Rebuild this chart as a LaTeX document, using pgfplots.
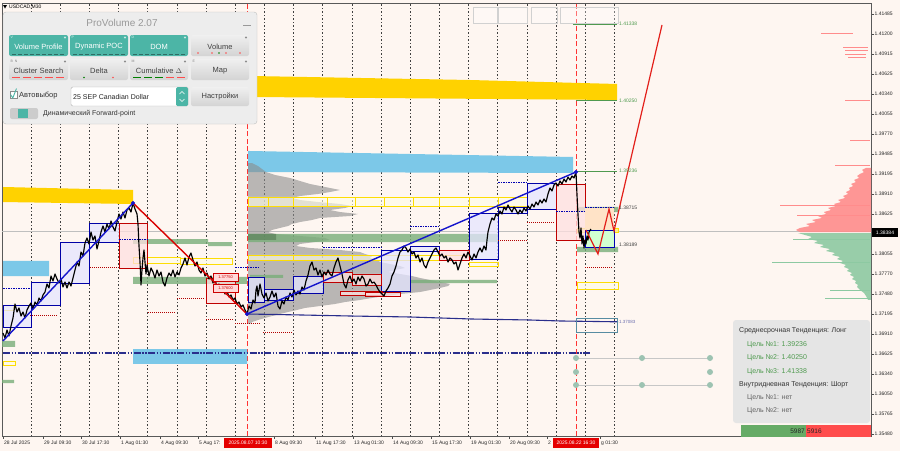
\documentclass[border=0pt]{standalone}
\usepackage{pgfplots}
\pgfplotsset{compat=1.18}
\usepackage{fontspec}
\setmainfont{Liberation Sans}

\definecolor{chartbg}{HTML}{FEF6F1}
\definecolor{gold}{HTML}{FFD200}
\definecolor{sky}{HTML}{7CC8E8}
\definecolor{navy}{HTML}{2A2E8C}
\definecolor{trend}{HTML}{1414CC}
\definecolor{zgreen}{HTML}{79AE79}
\definecolor{tealb}{HTML}{4CB5A6}
\definecolor{vpink}{HTML}{FF8C8C}
\definecolor{vgreen}{HTML}{8DC9A2}
\definecolor{tgreen}{HTML}{4F9A4F}
\definecolor{fcred}{HTML}{E3201B}
\definecolor{dotc}{HTML}{9DC3B2}

% rectangle zone: [style] x1 p1 x2 p2
\newcommand{\zone}[5][]{\addplot[#1] coordinates {(#2,#3) (#4,#3) (#4,#5) (#2,#5) (#2,#3)};}
% horizontal segment: [style] x1 x2 p
\newcommand{\hseg}[4][]{\addplot[#1] coordinates {(#2,#4) (#3,#4)};}

\pgfplotsset{
  zblue/.style={fill=blue!10, fill opacity=0.75, draw=blue!65!black, line width=0.6pt},
  zred/.style={fill=red!12, fill opacity=0.75, draw=red!75!black, line width=0.6pt},
  zgr/.style={fill=zgreen, fill opacity=0.8, draw=none},
  zyel/.style={fill=yellow!10, fill opacity=0.6, draw=yellow!80!orange, line width=0.6pt},
  dotred/.style={draw=red!70!black, dash pattern=on 1pt off 1pt, line width=0.6pt},
  dotblue/.style={draw=blue!70!black, dash pattern=on 1.5pt off 1pt, line width=0.6pt},
}

\newcommand{\tbtn}[6]{% x1 y1 x2 y2 label tag
  \fill[tealb, rounded corners=2pt] (#1,#2) rectangle (#3,#4);
  \node[text=white, font=\fontsize{7.5}{8}\selectfont] at ({(#1+#3)/2},{(#2+#4)/2+1}) {#5};
  \node[text=white!85!tealb, anchor=north west, inner sep=0.5pt, font=\fontsize{3.5}{4}\selectfont] at (#1+1,#2+0.5) {#6};
  \fill[white!70!tealb] (#3-3,#2+2.5) circle (1.2pt);
  \draw[tealb!60!black, dash pattern=on 4pt off 2pt, line width=0.6pt] (#1+3,#4-2) -- (#3-3,#4-2);
}
\newcommand{\gbtn}[6]{%
  \shade[top color=black!6, bottom color=black!17, rounded corners=2pt] (#1,#2) rectangle (#3,#4);
  \node[text=black!75, font=\fontsize{7.5}{8}\selectfont] at ({(#1+#3)/2},{(#2+#4)/2+1}) {#5};
  \node[text=black!50, anchor=north west, inner sep=0.5pt, font=\fontsize{3.5}{4}\selectfont] at (#1+1,#2+0.5) {#6};
  \fill[black!45] (#3-3,#2+2.5) circle (1.2pt);
}

\begin{document}
\begin{tikzpicture}
\useasboundingbox (0,0) rectangle (900pt,-451pt);
\fill[chartbg] (0,0) rectangle (900pt,-451pt);
\begin{axis}[
  at={(2pt,-3pt)}, anchor=north west,
  scale only axis, width=869pt, height=433pt,
  xmin=2, xmax=871, ymin=1.35450, ymax=1.41642,
  clip mode=individual,
  axis line style={black!65, line width=0.6pt},
  xtick pos=left, ytick pos=right, yticklabel pos=right,
  tick align=outside, major tick length=2.5pt,
  tick style={black!70, line width=0.5pt},
  ytick={1.41485,1.41200,1.40915,1.40625,1.40340,1.40055,1.39770,1.39485,1.39195,1.38910,1.38625,1.38340,1.38055,1.37770,1.37480,1.37195,1.36910,1.36625,1.36340,1.36050,1.35765,1.35480},
  yticklabels={1.41485,1.41200,1.40915,1.40625,1.40340,1.40055,1.39770,1.39485,1.39195,1.38910,1.38625,1.38340,1.38055,1.37770,1.37480,1.37195,1.36910,1.36625,1.36340,1.36050,1.35765,1.35480},
  xtick={3,43,81,120,160,198,274,315,353,392,431,470,509,547,600},
  xticklabels={28 Jul 2025,29 Jul 09:30,30 Jul 17:30,1 Aug 01:30,4 Aug 09:30,5 Aug 17:,8 Aug 09:30,11 Aug 17:30,13 Aug 01:30,14 Aug 09:30,15 Aug 17:30,19 Aug 01:30,20 Aug 09:30,2,g 01:30},
  yticklabel style={font=\fontsize{5}{6}\selectfont, text=black!85, inner sep=1pt},
  xticklabel style={font=\fontsize{5}{6}\selectfont, text=black!85, anchor=north west, inner sep=1pt, yshift=-1.5pt},
  extra x ticks={31,60.2,89.3,118.5,147.7,176.9,206,235.2,264.4,293.5,322.7,351.9,381,410.2,439.4,468.6,497.7,526.9,556.1,585.2,614.4},
  extra x tick labels={},
  extra x tick style={grid=major, major tick length=0pt,
    major grid style={black!75, dash pattern=on 1.5pt off 2pt, line width=0.6pt}},
]
% current price line and period separators
\hseg[black!25, line width=0.6pt]{2}{871}{1.38384}
\addplot[red!80, dash pattern=on 5pt off 2.5pt, line width=0.8pt] coordinates {(247,1.35450) (247,1.41642)};
\addplot[red!80, dash pattern=on 5pt off 2.5pt, line width=0.8pt] coordinates {(576,1.35450) (576,1.41642)};

% top gray boxes
\zone[draw=black!18, fill=white, fill opacity=0.3]{473}{1.41585}{497}{1.41356}
\zone[draw=black!18, fill=white, fill opacity=0.3]{498}{1.41585}{527}{1.41356}
\zone[draw=black!18, fill=white, fill opacity=0.3]{531}{1.41585}{557}{1.41356}
\zone[draw=black!18, fill=white, fill opacity=0.3]{560}{1.41585}{618}{1.41356}

% gold bands
\addplot[fill=gold, draw=none] coordinates {(3,1.39011) (133,1.38968) (133,1.38768) (3,1.38796) (3,1.39011)};
\addplot[fill=gold, draw=none] coordinates {(253,1.40598) (470,1.40541) (617,1.40484) (617,1.40255) (253,1.40298) (253,1.40598)};
% sky bands
\addplot[fill=sky, draw=none] coordinates {(248,1.39526) (573,1.39440) (573,1.39211) (248,1.39225) (248,1.39526)};
\zone[fill=sky, draw=none]{3}{1.37953}{49}{1.37738}
\zone[fill=sky, draw=none]{133}{1.36694}{247}{1.36480}

% gray volume profile
\addplot[fill=black!45, fill opacity=0.6, draw=none] coordinates {
(248,1.39354) (252,1.39354) (258,1.39311) (262,1.39268) (266,1.39225) (275,1.39183) (290,1.39140)
(300,1.39097) (310,1.39054) (325,1.39011) (340,1.38968) (330,1.38939) (318,1.38911) (300,1.38882)
(292,1.38854) (300,1.38825) (318,1.38796) (340,1.38768) (352,1.38739) (345,1.38711) (330,1.38682)
(340,1.38653) (358,1.38625) (350,1.38596) (320,1.38568) (312,1.38539) (300,1.38510) (292,1.38482)
(288,1.38453) (280,1.38425) (272,1.38396) (268,1.38367) (275,1.38339) (300,1.38310) (325,1.38282)
(330,1.38253) (315,1.38224) (300,1.38196) (296,1.38167) (310,1.38139) (340,1.38110) (360,1.38081)
(365,1.38053) (372,1.38024) (370,1.37996) (378,1.37967) (380,1.37938) (390,1.37910) (400,1.37881)
(405,1.37853) (395,1.37824) (388,1.37795) (400,1.37767) (412,1.37738) (420,1.37710) (430,1.37681)
(440,1.37652) (450,1.37624) (448,1.37595) (440,1.37567) (430,1.37538) (420,1.37509) (400,1.37481)
(385,1.37452) (372,1.37424) (360,1.37395) (345,1.37366) (335,1.37338) (320,1.37309) (305,1.37281)
(297,1.37252) (288,1.37223) (280,1.37195) (272,1.37166) (265,1.37138) (258,1.37109) (252,1.37080)
(250,1.37052) (248,1.37052) (248,1.39354)};

% right volume profile
\addplot[fill=vpink, fill opacity=0.9, draw=none] coordinates {
(871,1.39283) (866,1.39283) (862,1.39254) (864,1.39225) (860,1.39197) (857,1.39168) (859,1.39140)
(854,1.39111) (856,1.39082) (851,1.39054) (853,1.39025) (849,1.38997) (850,1.38968) (846,1.38939)
(848,1.38911) (843,1.38882) (845,1.38854) (838,1.38825) (841,1.38796) (834,1.38768) (836,1.38739)
(828,1.38711) (831,1.38682) (824,1.38653) (826,1.38625) (818,1.38596) (822,1.38568) (812,1.38539)
(816,1.38510) (806,1.38482) (810,1.38453) (800,1.38425) (796,1.38396) (800,1.38367) (871,1.38367) (871,1.39283)};
\addplot[fill=vgreen, fill opacity=0.9, draw=none] coordinates {
(871,1.38353) (798,1.38353) (805,1.38325) (812,1.38296) (808,1.38267) (818,1.38239) (814,1.38210)
(824,1.38182) (820,1.38153) (830,1.38124) (826,1.38096) (835,1.38067) (832,1.38039) (840,1.38010)
(837,1.37981) (843,1.37953) (840,1.37924) (846,1.37896) (844,1.37867) (849,1.37838) (847,1.37810)
(852,1.37781) (850,1.37753) (854,1.37724) (852,1.37695) (856,1.37667) (855,1.37638) (858,1.37610)
(857,1.37581) (860,1.37538) (864,1.37495) (866,1.37452) (868,1.37395) (871,1.37395) (871,1.38353)};
\hseg[vpink, line width=0.8pt]{821}{853}{1.41213}
\hseg[vpink, line width=0.8pt]{843}{868}{1.41013}
\hseg[vpink, line width=0.8pt]{845}{868}{1.40970}
\hseg[vpink, line width=0.8pt]{845}{866}{1.40913}
\hseg[vpink, line width=0.8pt]{848}{866}{1.40870}
\hseg[vpink, line width=0.8pt]{845}{870}{1.40255}
\hseg[vpink, line width=0.8pt]{850}{870}{1.39683}
\hseg[vpink, line width=0.8pt]{835}{870}{1.39325}
\hseg[vpink, line width=0.8pt]{780}{870}{1.38754}
\hseg[vpink, line width=0.8pt]{797}{870}{1.38611}
\hseg[vgreen, line width=0.8pt]{793}{870}{1.38267}
\hseg[vgreen, line width=0.8pt]{772}{870}{1.37938}
\hseg[vgreen, line width=0.8pt]{830}{870}{1.37538}
\hseg[vgreen, line width=0.8pt]{825}{870}{1.37424}

% green zones
\zone[zgr]{133}{1.38267}{208}{1.38196}
\zone[zgr]{208}{1.38224}{232}{1.38167}
\zone[zgr]{133}{1.37724}{247}{1.37624}
\zone[zgr]{2}{1.36809}{15}{1.36723}
\zone[zgr]{2}{1.36251}{14}{1.36208}
\zone[zgr]{248}{1.38339}{498}{1.38224}
\zone[fill=zgreen!70!black, fill opacity=0.6, draw=none]{248}{1.38339}{276}{1.38253}
\zone[zgr]{250}{1.37753}{283}{1.37710}
\zone[zgr]{410}{1.37681}{497}{1.37638}
\zone[zgr]{577}{1.38725}{618}{1.38653}
\zone[zgr]{577}{1.38153}{618}{1.38081}

% yellow outlined boxes
\zone[zyel]{248}{1.38868}{268}{1.38739}
\zone[zyel]{268}{1.38868}{293}{1.38739}
\zone[zyel]{293}{1.38868}{327}{1.38739}
\zone[zyel]{327}{1.38868}{355}{1.38739}
\zone[zyel]{355}{1.38868}{384}{1.38739}
\zone[zyel]{384}{1.38868}{413}{1.38739}
\zone[zyel]{413}{1.38868}{439}{1.38739}
\zone[zyel]{439}{1.38868}{469}{1.38739}
\zone[zyel]{469}{1.38868}{498}{1.38739}
\zone[zyel]{498}{1.38868}{527}{1.38739}
\zone[zyel]{248}{1.38039}{293}{1.37967}
\zone[zyel]{293}{1.38039}{352}{1.37967}
\zone[zyel]{352}{1.38039}{410}{1.37967}
\zone[zyel]{410}{1.38039}{469}{1.37967}
\zone[zyel]{469}{1.37938}{498}{1.37881}
\zone[zyel]{133}{1.38010}{180}{1.37924}
\zone[zyel]{180}{1.37996}{232}{1.37910}
\zone[zyel]{3}{1.37324}{13}{1.37252}
\zone[zyel]{3}{1.36523}{15}{1.36466}
\zone[fill=gold!45, draw=yellow!80!orange, line width=0.6pt]{577}{1.38425}{618}{1.38367}
\zone[zyel]{577}{1.37652}{618}{1.37552}

% blue range boxes
\zone[zblue]{3}{1.37324}{31}{1.37009}
\zone[zblue]{31}{1.37652}{60}{1.37324}
\zone[zblue]{60}{1.38224}{89}{1.37638}
\zone[zblue]{89}{1.38496}{119}{1.38224}
\zone[zblue]{248}{1.37724}{264}{1.37366}
\zone[zblue]{264}{1.37552}{293}{1.37395}
\zone[zblue]{293}{1.37738}{323}{1.37495}
\zone[zblue]{381}{1.38110}{410}{1.37524}
\zone[zblue]{410}{1.38167}{439}{1.38096}
\zone[zblue]{469}{1.38639}{498}{1.37981}
\zone[zblue]{498}{1.38725}{527}{1.38639}
\zone[zblue]{527}{1.39068}{556}{1.38696}
% red range boxes
\zone[zred]{119}{1.38496}{147}{1.37853}
\zone[zred]{206}{1.37710}{235}{1.37352}
\zone[zred]{323}{1.37795}{352}{1.37652}
\zone[zred]{352}{1.37767}{381}{1.37610}
\zone[zred]{340}{1.37524}{382}{1.37467}
\zone[zred]{365}{1.37509}{400}{1.37452}
\zone[zred]{439}{1.38110}{469}{1.37967}
\zone[zred]{556}{1.39054}{585}{1.38253}
% current bar projection
\zone[fill=orange!22, draw=none]{585}{1.38711}{614}{1.38396}
\zone[fill=green!18, draw=blue!70!black, line width=0.7pt]{585}{1.38396}{614}{1.38153}

% dotted levels
\hseg[dotred]{30}{58}{1.37181}
\hseg[dotred]{90}{117}{1.37867}
\hseg[dotred]{148}{175}{1.37223}
\hseg[dotred]{177}{205}{1.37424}
\hseg[dotred]{206}{233}{1.37123}
\hseg[dotred]{235}{260}{1.37066}
\hseg[dotred]{263}{293}{1.36937}
\hseg[dotred]{498}{527}{1.38253}
\hseg[dotred]{527}{555}{1.38510}
\hseg[dotred]{585}{613}{1.37867}
\hseg[dotblue]{3}{31}{1.37567}
\hseg[dotblue]{119}{147}{1.38267}
\hseg[dotblue]{235}{260}{1.37867}
\hseg[dotblue]{323}{381}{1.38153}
\hseg[dotblue]{410}{439}{1.38453}
\hseg[dotblue]{498}{527}{1.39082}
\hseg[dotblue]{556}{585}{1.38668}
\hseg[dotblue]{585}{614}{1.38725}

% lower levels
\addplot[navy, line width=2pt, dash pattern=on 7pt off 1.5pt on 1.5pt off 1.5pt on 1.5pt off 1.5pt] coordinates {(3,1.36637) (590,1.36637)};
\addplot[navy, line width=1.1pt] coordinates {(247,1.37195) (300,1.37181) (351,1.37166) (410,1.37152) (472,1.37123) (530,1.37109) (560,1.37095) (618,1.37083)};
\zone[draw=sky!70!black, line width=0.5pt]{576}{1.37138}{617}{1.36937}

% targets
\hseg[tgreen, line width=1.4pt]{573}{617}{1.41338}
\hseg[tgreen, line width=1.4pt]{576}{617}{1.40250}
\hseg[tgreen, line width=1.4pt]{577}{617}{1.39236}

% price (M30 closes)
\addplot[black, line width=1.15pt, line join=round] table {
3 1.36923
5 1.36852
7 1.36966
9 1.36880
11 1.37023
13 1.37138
15 1.37338
17 1.37223
19 1.37281
21 1.37166
23 1.37223
25 1.37138
27 1.37252
29 1.37309
31 1.37352
33 1.37266
35 1.37366
37 1.37324
39 1.37424
41 1.37381
43 1.37467
45 1.37509
47 1.37624
49 1.37567
51 1.37738
53 1.37667
55 1.37767
57 1.37695
59 1.37638
61 1.37695
63 1.37581
65 1.37652
67 1.37567
69 1.37652
71 1.37595
73 1.37710
75 1.37824
77 1.37938
79 1.37881
81 1.38081
83 1.38024
85 1.38210
87 1.38282
89 1.38196
91 1.38367
93 1.38253
95 1.38310
97 1.38124
99 1.38239
101 1.38367
103 1.38453
105 1.38367
107 1.38482
109 1.38410
111 1.38525
113 1.38439
115 1.38382
117 1.38510
119 1.38625
121 1.38553
123 1.38653
125 1.38568
127 1.38682
129 1.38711
131 1.38653
133 1.38782
135 1.38696
137 1.38625
138 1.38482
139 1.38167
140 1.37938
141 1.37610
142 1.37824
143 1.37996
144 1.38110
145 1.37938
146 1.37767
147 1.37896
149 1.37738
151 1.37853
153 1.37795
155 1.37710
157 1.37824
159 1.37738
161 1.37795
163 1.37652
165 1.37595
167 1.37710
169 1.37781
171 1.37738
173 1.37824
175 1.37724
177 1.37795
179 1.37753
181 1.37853
183 1.37910
185 1.37996
187 1.37896
189 1.38010
191 1.38067
193 1.37967
195 1.37881
197 1.37938
199 1.37824
201 1.37781
203 1.37853
205 1.37738
207 1.37781
209 1.37695
211 1.37738
213 1.37638
215 1.37681
217 1.37595
219 1.37624
221 1.37538
223 1.37567
225 1.37481
227 1.37524
229 1.37438
231 1.37467
233 1.37395
235 1.37424
237 1.37338
239 1.37366
241 1.37295
243 1.37324
245 1.37252
247 1.37195
249 1.37309
251 1.37266
253 1.37395
255 1.37352
256 1.37538
257 1.37595
258 1.37452
260 1.37624
262 1.37481
264 1.37424
266 1.37495
268 1.37381
270 1.37438
272 1.37524
274 1.37438
276 1.37495
278 1.37309
280 1.37266
282 1.37381
284 1.37338
286 1.37438
288 1.37395
290 1.37495
292 1.37438
294 1.37538
296 1.37467
298 1.37524
300 1.37481
302 1.37581
304 1.37538
306 1.37667
308 1.37753
310 1.37881
312 1.37938
314 1.37824
316 1.37853
318 1.37753
320 1.37824
322 1.37724
324 1.37795
326 1.37753
328 1.37824
330 1.37767
332 1.37738
334 1.37853
336 1.37938
338 1.37996
340 1.37881
342 1.37767
344 1.37624
346 1.37567
348 1.37681
350 1.37738
352 1.37652
354 1.37695
356 1.37624
358 1.37724
360 1.37667
362 1.37738
364 1.37695
366 1.37595
368 1.37624
370 1.37695
372 1.37638
374 1.37652
376 1.37610
378 1.37552
380 1.37509
382 1.37481
384 1.37452
386 1.37524
388 1.37567
390 1.37624
392 1.37738
394 1.37795
396 1.37881
398 1.37996
400 1.38081
402 1.38110
404 1.38167
406 1.38139
408 1.38081
410 1.38124
412 1.38053
414 1.38081
416 1.37996
418 1.38039
420 1.37938
422 1.37996
424 1.37896
426 1.37853
428 1.37938
430 1.37996
432 1.38053
434 1.38110
436 1.38139
438 1.38081
440 1.38024
442 1.38053
444 1.37996
446 1.38024
448 1.37938
450 1.37996
452 1.37967
454 1.37910
456 1.37938
458 1.37824
460 1.37910
462 1.37996
464 1.38053
466 1.37996
468 1.38081
470 1.38024
472 1.37967
474 1.38053
476 1.37996
478 1.38081
480 1.38139
482 1.38081
484 1.38167
486 1.38110
487 1.38253
488 1.38367
490 1.38482
492 1.38568
494 1.38539
496 1.38625
498 1.38596
500 1.38668
502 1.38625
504 1.38725
506 1.38682
508 1.38754
510 1.38696
512 1.38653
514 1.38725
516 1.38682
518 1.38625
520 1.38682
522 1.38639
524 1.38711
526 1.38668
528 1.38739
530 1.38696
532 1.38768
534 1.38725
536 1.38796
538 1.38754
540 1.38825
542 1.38782
544 1.38839
546 1.38796
548 1.38911
550 1.38997
552 1.38954
554 1.39040
556 1.39068
558 1.39025
560 1.39097
562 1.39054
564 1.39125
566 1.39082
568 1.39154
570 1.39111
572 1.39168
574 1.39140
576 1.39225
577 1.38897
578 1.38611
579 1.38367
580 1.38282
581 1.38425
582 1.38196
583 1.38310
584 1.38139
585 1.38253
586 1.38196
587 1.38310
588 1.38253
589 1.38367
591 1.38410
};

% trend lines and forecast
\addplot[trend, line width=1.4pt] coordinates {(3,1.36809) (133,1.38782)};
\addplot[red!85!black, line width=1.4pt] coordinates {(133,1.38782) (247,1.37195)};
\addplot[trend, line width=1.4pt] coordinates {(247,1.37195) (576,1.39225)};
\addplot[only marks, mark=*, mark size=1.8pt, trend] coordinates {(133,1.38782) (247,1.37195) (576,1.39225)};
\addplot[fcred, line width=1.2pt] coordinates {(586,1.38396) (598,1.38053) (609,1.38696) (614,1.38382) (662,1.41328)};

% level labels
\zone[fill=red!15, draw=red!80!black, line width=0.6pt]{213}{1.37781}{238}{1.37667}
\zone[fill=red!15, draw=red!80!black, line width=0.6pt]{213}{1.37624}{238}{1.37509}
\node[text=red!80!black, font=\fontsize{4}{4}\selectfont, inner sep=0] at (axis cs:225.5,1.37724) {1.37750};
\node[text=red!80!black, font=\fontsize{4}{4}\selectfont, inner sep=0] at (axis cs:225.5,1.37567) {1.37600};
\node[anchor=west, inner sep=1pt, text=tgreen, font=\fontsize{5}{6}\selectfont] at (axis cs:618,1.41338) {1.41338};
\node[anchor=west, inner sep=1pt, text=tgreen, font=\fontsize{5}{6}\selectfont] at (axis cs:618,1.40250) {1.40250};
\node[anchor=west, inner sep=1pt, text=tgreen, font=\fontsize{5}{6}\selectfont] at (axis cs:618,1.39236) {1.39236};
\node[anchor=west, inner sep=1pt, text=black!75, font=\fontsize{5}{6}\selectfont] at (axis cs:618,1.38715) {1.38715};
\node[anchor=west, inner sep=1pt, text=black!75, font=\fontsize{5}{6}\selectfont] at (axis cs:618,1.38189) {1.38189};
\node[anchor=west, inner sep=1pt, text=navy!70, font=\fontsize{4.5}{5}\selectfont] at (axis cs:618,1.37083) {1.37083};
\end{axis}

\begin{scope}[x=1pt, y=-1pt]
% symbol caption
\fill[black] (3,5) -- (7,5) -- (5,8.5) -- cycle;
\node[anchor=west, inner sep=0, font=\fontsize{5}{6}\selectfont] at (9,6.8) {USDCAD,M30};

% ProVolume panel
\filldraw[fill=black!7, draw=black!25, rounded corners=3pt] (3,12) rectangle (257,124);
\node[text=black!40, font=\fontsize{10}{12}\selectfont] at (122,23) {ProVolume 2.07};
\draw[black!40, line width=0.9pt] (243,25) -- (251,25);
\tbtn{9}{35}{68}{56}{Volume Profile}{V}
\tbtn{70}{35}{128}{56}{Dynamic POC}{P}
\tbtn{130}{35}{188}{56}{DOM}{D}
\gbtn{191}{35}{249}{56}{Volume}{}
\gbtn{9}{59}{68}{80}{Cluster Search}{B\enspace N}
\gbtn{70}{59}{128}{80}{Delta}{}
\gbtn{130}{59}{188}{80}{Cumulative $\Delta$}{M}
\gbtn{191}{59}{249}{80}{Map}{E}
\foreach \xx in {198,212,226,240} \fill[red!70] (\xx,53) circle (0.8pt);
\fill[green!50!black] (219,53) circle (0.8pt);
\foreach \a/\b in {12/20,23/31,34/42,45/53,56/64} \draw[red!70, line width=0.6pt] (\a,77.5) -- (\b,77.5);
\fill[green!50!black] (84,77.5) circle (0.8pt);
\fill[red!70] (113,77.5) circle (0.8pt);
\foreach \a/\b in {133/141,144/152,155/163} \draw[green!50!black, line width=0.6pt] (\a,77.5) -- (\b,77.5);
\foreach \a/\b in {166/174,177/185} \draw[red!70, line width=0.6pt] (\a,77.5) -- (\b,77.5);
% checkbox and selector row
\filldraw[fill=white, draw=black!45] (10,91) rectangle (17,98);
\draw[tealb, line width=0.9pt] (10.5,94.5) -- (12.8,98) -- (16.5,88.5);
\node[anchor=west, inner sep=0, text=black!80, font=\fontsize{7.5}{8}\selectfont] at (19,95.5) {Автовыбор};
\filldraw[fill=white, draw=black!30, rounded corners=1.5pt] (71,87) rectangle (188,106);
\node[anchor=west, inner sep=0, text=black!85, font=\fontsize{7}{8}\selectfont] at (73,96.5) {25 SEP Canadian Dollar};
\fill[tealb, rounded corners=1.5pt] (176,87) rectangle (188,106);
\draw[white, line width=0.6pt] (179.5,94) -- (182,91.5) -- (184.5,94);
\draw[white, line width=0.6pt] (179.5,99) -- (182,101.5) -- (184.5,99);
\shade[top color=black!6, bottom color=black!17, rounded corners=2pt] (191,87) rectangle (249,106);
\node[text=black!75, font=\fontsize{7.5}{8}\selectfont] at (220,96.5) {Настройки};
% toggle row
\fill[black!20, rounded corners=2pt] (10,108) rectangle (38,119);
\fill[tealb] (18,109) rectangle (28,118);
\node[anchor=west, inner sep=0, text=black!80, font=\fontsize{7}{8}\selectfont] at (43,114) {Динамический Forward-point};

% target dots
\draw[black!22, line width=0.8pt] (576,358) -- (710,358);
\draw[black!22, line width=0.8pt] (576,385) -- (710,385);
\foreach \px/\py in {576/358,642/358,710/358,576/372,710/372,576/385,642/385,710/385}
  \fill[dotc] (\px,\py) circle (3pt);

% trend info box
\fill[black!10, rounded corners=3pt] (733,320) rectangle (870,423);
\node[anchor=west, inner sep=0, text=black!80, font=\fontsize{7}{8}\selectfont] at (739,331) {Среднесрочная Тенденция: Лонг};
\node[anchor=west, inner sep=0, text=tgreen, font=\fontsize{7}{8}\selectfont] at (747,345) {Цель №1: 1.39236};
\node[anchor=west, inner sep=0, text=tgreen, font=\fontsize{7}{8}\selectfont] at (747,358) {Цель №2: 1.40250};
\node[anchor=west, inner sep=0, text=tgreen, font=\fontsize{7}{8}\selectfont] at (747,372) {Цель №3: 1.41338};
\node[anchor=west, inner sep=0, text=black!80, font=\fontsize{7}{8}\selectfont] at (739,385) {Внутридневная Тенденция: Шорт};
\node[anchor=west, inner sep=0, text=black!60, font=\fontsize{7}{8}\selectfont] at (747,398) {Цель №1: нет};
\node[anchor=west, inner sep=0, text=black!60, font=\fontsize{7}{8}\selectfont] at (747,411) {Цель №2: нет};
\fill[green!45!black!60!white] (741,425) rectangle (806,436.5);
\fill[red!70] (806,425) rectangle (871,436.5);
\node[anchor=east, inner sep=1pt, text=black!85, font=\fontsize{6.5}{7}\selectfont] at (806,431) {5987};
\node[anchor=west, inner sep=1pt, text=black!85, font=\fontsize{6.5}{7}\selectfont] at (806,431) {5916};

% current price and date markers
\fill[black] (872,228) rectangle (898,236.5);
\node[text=white, font=\fontsize{5}{6}\selectfont, inner sep=0] at (885,232.3) {1.38384};
\fill[red!90!black] (224,438) rectangle (272,448);
\node[text=white, font=\fontsize{5}{6}\selectfont, inner sep=0] at (248,443) {2025.08.07 10:30};
\fill[red!90!black] (553,438) rectangle (599,448);
\node[text=white, font=\fontsize{5}{6}\selectfont, inner sep=0] at (576,443) {2025.08.22 16:30};
\end{scope}
\end{tikzpicture}
\end{document}
